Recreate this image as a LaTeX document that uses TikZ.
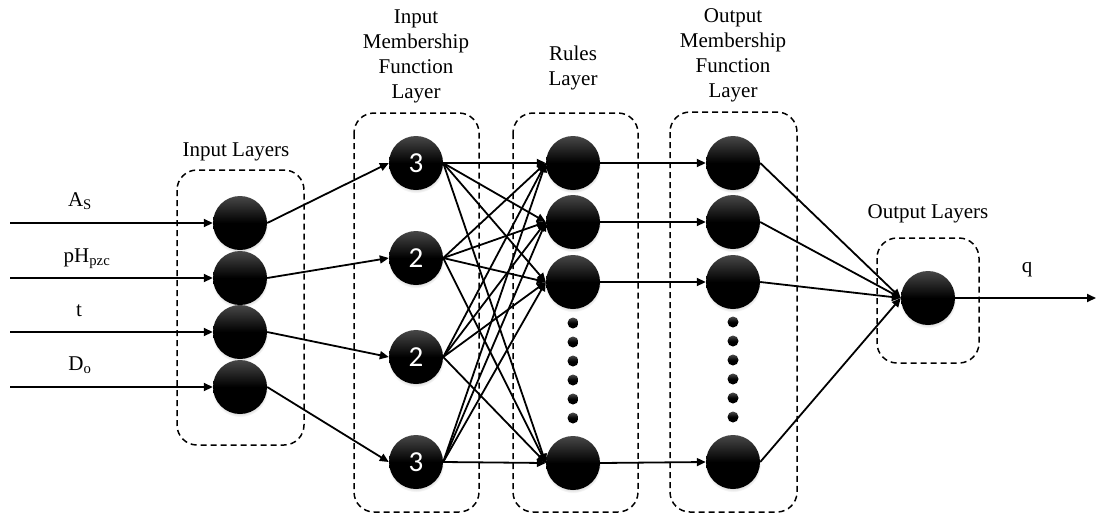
\documentclass[tikz,border=0pt]{standalone}
\usepackage{fontspec}
\setmainfont{Liberation Serif}
\newfontfamily\digitfont{Carlito}
\usetikzlibrary{arrows.meta,shadows}
\begin{document}
\begin{tikzpicture}[x=1pt,y=-1pt,
  lbl/.style={font=\fontsize{21}{25}\selectfont, inner sep=0pt, align=center},
  neuron/.style={circle, minimum size=54pt, inner sep=0pt, draw=none,
    top color=black!72, bottom color=black, middle color=black,
    circular drop shadow={shadow xshift=0pt, shadow yshift=-2pt, opacity=0.3, shadow scale=1.04},
    text=white, font=\digitfont\fontsize{29}{29}\selectfont},
  dotnode/.style={circle, minimum size=11pt, inner sep=0pt, draw=none,
    top color=black!70, bottom color=black, middle color=black},
  layerbox/.style={draw=black, line width=1.5pt, dash pattern=on 6pt off 4pt, rounded corners=20pt},
  wire/.style={line width=1.8pt, -{Triangle[length=9pt,width=8pt]}}
]
\useasboundingbox (0,0) rectangle (1097,515);

% dashed layer frames
\draw[layerbox] (177,170) rectangle (304,445);
\draw[layerbox] (354,113) rectangle (479,512);
\draw[layerbox] (513,113) rectangle (638,512);
\draw[layerbox] (670,112) rectangle (797,512);
\draw[layerbox] (877,238) rectangle (979,363);

% layer titles
\node[lbl, anchor=base] (tin) at (236,156) {Input Layers};
\node[lbl, anchor=north] (timf) at (416,10) {Input\\Membership\\Function\\Layer};
\node[lbl, anchor=north] (trule) at (573,46) {Rules\\Layer};
\node[lbl, anchor=north] (tomf) at (733,8) {Output\\Membership\\Function\\Layer};
\node[lbl, anchor=base] (tout) at (928,218) {Output Layers};

% input variable names
\node[lbl, anchor=base] (lA) at (80,206) {A\textsubscript{S}};
\node[lbl, anchor=base] (lp) at (87,262) {pH\textsubscript{pzc}};
\node[lbl, anchor=base] (lt) at (79,316) {t};
\node[lbl, anchor=base] (lD) at (80,370) {D\textsubscript{o}};
\node[lbl, anchor=base] (lq) at (1027,272) {q};

% input layer
\node[neuron] (in1) at (240,223) {};
\node[neuron] (in2) at (240,278) {};
\node[neuron] (in3) at (240,332) {};
\node[neuron] (in4) at (240,387) {};

% input membership function layer
\node[neuron] (m1) at (416,163) {3};
\node[neuron] (m2) at (416,258) {2};
\node[neuron] (m3) at (416,357) {2};
\node[neuron] (m4) at (416,462) {3};

% rules layer
\node[neuron] (r1) at (573,163) {};
\node[neuron] (r2) at (573,222) {};
\node[neuron] (r3) at (573,282) {};
\node[neuron] (r4) at (573,463) {};
\foreach \i/\y in {1/323,2/342,3/361,4/380,5/399,6/418}
  \node[dotnode] (rd\i) at (573,\y) {};

% output membership function layer
\node[neuron] (o1) at (733,163) {};
\node[neuron] (o2) at (733,222) {};
\node[neuron] (o3) at (733,282) {};
\node[neuron] (o4) at (733,462) {};
\foreach \i/\y in {1/322,2/341,3/360,4/379,5/398,6/417}
  \node[dotnode] (od\i) at (733,\y) {};

% output layer
\node[neuron] (out) at (928,298) {};

% free ends of the external arrows
\coordinate (s1) at (10,223);
\coordinate (s2) at (10,278);
\coordinate (s3) at (10,332);
\coordinate (s4) at (10,387);
\coordinate (q) at (1096,298);

% inputs
\foreach \i in {1,2,3,4}
  \draw[wire] (s\i) -- (in\i.west);

% input layer to membership functions
\foreach \i in {1,2,3,4}
  \draw[wire] (in\i.east) -- (m\i.west);

% membership functions to rules (fully connected)
\foreach \i in {1,2,3,4}
  \foreach \j in {1,2,3,4}
    \draw[wire] (m\i.east) -- (r\j.west);

% rules to output membership functions
\foreach \i in {1,2,3,4}
  \draw[wire] (r\i.east) -- (o\i.west);

% output membership functions to output
\foreach \i in {1,2,3,4}
  \draw[wire] (o\i.east) -- (out.west);

% final output
\draw[wire] (out.east) -- (q);
\end{tikzpicture}
\end{document}
